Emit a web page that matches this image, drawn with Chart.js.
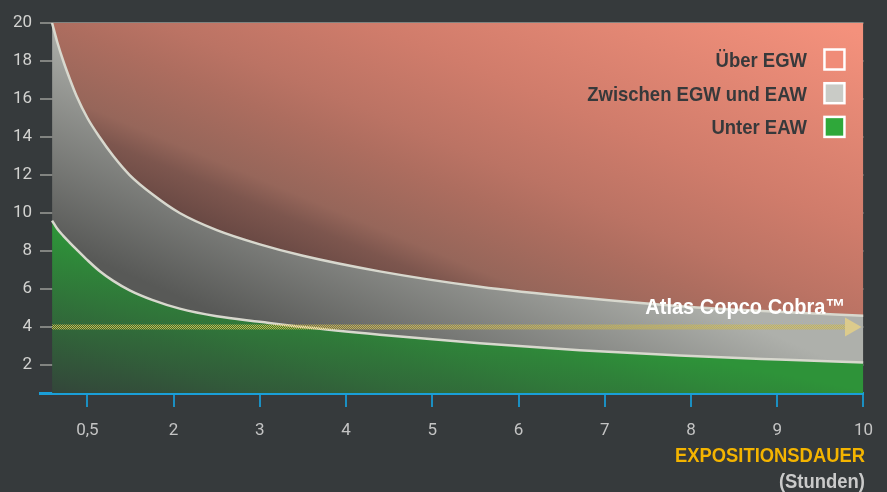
<!DOCTYPE html>
<html><head><meta charset="utf-8">
<script src="https://cdn.jsdelivr.net/npm/chart.js@4"></script>
<style>
html,body{margin:0;padding:0;background:#363a3c;overflow:hidden;}
#wrap{width:887px;height:492px;position:relative;}
canvas{display:block;}
</style></head><body><div id="wrap"><canvas id="c" width="887" height="492"></canvas></div>
<script>
// ---- data ----
const hours = [0.59, 0.65, 0.72, 0.80, 0.87, 1.00, 1.14, 1.30, 1.49, 1.75, 2.07, 2.50, 3.00, 3.50, 4.39, 5.55, 6.71, 7.87, 9.02, 10];
const egw   = [20, 19, 18, 17, 16.2, 15.0, 14, 13.0, 12, 11.0, 10, 9.1, 8.35, 7.75, 6.93, 6.12, 5.55, 5.1, 4.8, 4.6];
const eaw   = [9.6, 9.17, 8.8, 8.42, 8.1, 7.52, 6.95, 6.43, 5.93, 5.43, 4.97, 4.57, 4.28, 4.0, 3.6, 3.15, 2.78, 2.5, 2.29, 2.13];
const cobraHours = [0.59, 9.85];
const cobraLevel = [4, 4];
const xTickValues = [1, 2, 3, 4, 5, 6, 7, 8, 9, 10];
const xTickLabels = ['0,5', '2', '3', '4', '5', '6', '7', '8', '9', '10'];
const yTickValues = [2, 4, 6, 8, 10, 12, 14, 16, 18, 20];
const legendLabels = ['Über EGW', 'Zwischen EGW und EAW', 'Unter EAW'];
const cobraLabel = 'Atlas Copco Cobra™';
const xTitle = 'EXPOSITIONSDAUER';
const xSubTitle = '(Stunden)';

const BOLD = '"Liberation Sans", Arial, sans-serif';

function redFill(c) {
  const g = c.chart.ctx.createLinearGradient(-50, 120, 115.5, -277);
  g.addColorStop(0.000, '#684843');
  g.addColorStop(0.093, '#7d564e');
  g.addColorStop(0.151, '#96665a');
  g.addColorStop(0.302, '#ad6d5f');
  g.addColorStop(0.395, '#bb7364');
  g.addColorStop(0.581, '#d07c6b');
  g.addColorStop(1.000, '#f4917c');
  return g;
}
function grayFill(c) {
  const g = c.chart.ctx.createLinearGradient(-80, 185, 0, 0);
  g.addColorStop(0, '#585957');
  g.addColorStop(1, '#aeb0ab');
  return g;
}
function greenFill(c) {
  const g = c.chart.ctx.createLinearGradient(-70, 366, -40, 213);
  g.addColorStop(0, '#33473a');
  g.addColorStop(1, '#2e9339');
  return g;
}
function checker() {
  const p = document.createElement('canvas');
  p.width = 2; p.height = 2;
  const x = p.getContext('2d');
  x.fillStyle = '#cfb948';
  x.fillRect(0, 0, 1, 1);
  x.fillRect(1, 1, 1, 1);
  return document.getElementById('c').getContext('2d').createPattern(p, 'repeat');
}

const pts = (xs, ys) => xs.map((h, i) => ({x: h, y: ys[i]}));

function condText(ctx, text, xRight, y, sx) {
  ctx.save();
  ctx.translate(xRight, y);
  ctx.scale(sx, 1);
  ctx.textAlign = 'right';
  ctx.fillText(text, 0, 0);
  ctx.restore();
}

const overlay = {
  id: 'overlay',
  afterDraw(chart) {
    const {ctx, chartArea: a, scales} = chart;
    const xs = scales.x, ys = scales.y;
    ctx.save();
    // legend
    ctx.font = 'bold 21px ' + BOLD;
    ctx.textBaseline = 'alphabetic';
    const boxFill = ['#f08c78', '#c9cbc6', '#2fa83a'];
    legendLabels.forEach((t, i) => {
      const cy = a.top + 36.5 + i * 33.7;
      ctx.fillStyle = '#37393b';
      condText(ctx, t, a.right - 56.5, cy + 7.5, 0.88);
      ctx.fillStyle = boxFill[i];
      ctx.fillRect(a.right - 39, cy - 10, 20, 20);
      ctx.lineWidth = 2.5;
      ctx.strokeStyle = '#ffffff';
      ctx.strokeRect(a.right - 39, cy - 10, 20, 20);
    });
    // cobra label
    ctx.font = 'bold 22px ' + BOLD;
    ctx.fillStyle = '#ffffff';
    condText(ctx, cobraLabel, xs.getPixelForValue(cobraHours[1]) - 5, ys.getPixelForValue(cobraLevel[1]) - 13, 0.91);
    // x title
    ctx.font = 'bold 21px ' + BOLD;
    ctx.fillStyle = '#f4b400';
    condText(ctx, xTitle, a.right + 1.5, 462, 0.875);
    ctx.fillStyle = '#cacaca';
    condText(ctx, xSubTitle, a.right + 1.5, 488, 0.878);
    ctx.restore();
  }
};

Chart.defaults.font.family = 'Roboto, "Liberation Sans", sans-serif';

new Chart(document.getElementById('c'), {
  type: 'line',
  data: {
    datasets: [
      { label: legendLabels[0], data: pts(hours, egw), fill: 'end', backgroundColor: redFill,
        borderColor: '#d8d8ce', borderWidth: 2.5, pointRadius: 0, cubicInterpolationMode: 'monotone' },
      { label: legendLabels[1], data: pts(hours, eaw), fill: '-1', backgroundColor: grayFill,
        borderColor: '#d8d8ce', borderWidth: 2.5, pointRadius: 0, cubicInterpolationMode: 'monotone' },
      { label: legendLabels[2], data: pts(hours, eaw), fill: 'start', backgroundColor: greenFill,
        borderColor: 'rgba(0,0,0,0)', borderWidth: 0, pointRadius: 0, cubicInterpolationMode: 'monotone' },
      { label: cobraLabel, data: pts(cobraHours, cobraLevel), fill: false, borderColor: checker(),
        borderWidth: 5, pointRadius: [0, 11], pointStyle: 'triangle', rotation: 90,
        pointBackgroundColor: '#dccb8c', pointBorderColor: '#dccb8c', pointBorderWidth: 0, order: -1 }
    ]
  },
  options: {
    responsive: false,
    animation: false,
    layout: { padding: { left: 0, right: 23, top: 23, bottom: 0 } },
    plugins: { legend: { display: false }, tooltip: { enabled: false } },
    scales: {
      x: {
        type: 'linear', min: 0.45, max: 10,
        afterBuildTicks: s => { s.ticks = xTickValues.map(v => ({ value: v })); },
        afterFit: s => { s.height = 99; },
        ticks: { callback: v => xTickLabels[xTickValues.indexOf(v)], color: '#c4c4c4',
                 font: { size: 17 }, padding: 14, autoSkip: false, maxRotation: 0 },
        grid: { drawOnChartArea: false, drawTicks: true, tickLength: 14, color: '#1b8fc2', lineWidth: 2 },
        border: { display: true, color: '#1a9fd8', width: 3 }
      },
      y: {
        min: 0.53, max: 20, z: 1,
        afterBuildTicks: s => { s.ticks = yTickValues.map(v => ({ value: v })); },
        afterFit: s => { s.width = 40; },
        ticks: { color: '#d2d2d0', font: { size: 17 }, padding: 8 },
        grid: { drawTicks: false, color: 'rgba(236,236,226,0.42)', lineWidth: 2 },
        border: { display: false }
      }
    }
  },
  plugins: [overlay]
});
</script></body></html>
